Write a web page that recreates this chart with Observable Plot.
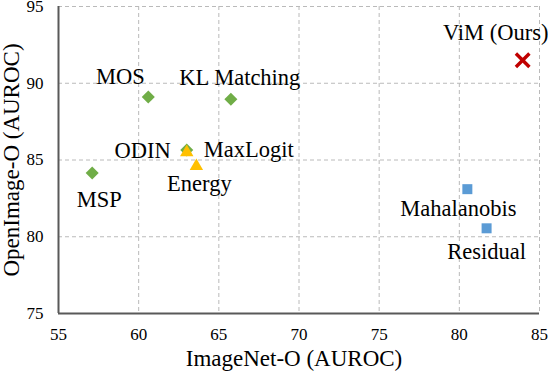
<!DOCTYPE html>
<html>
<head>
<meta charset="utf-8">
<script src="https://cdn.jsdelivr.net/npm/d3@7"></script>
<script src="https://cdn.jsdelivr.net/npm/@observablehq/plot@0.6"></script>
<style>
  html, body { margin: 0; padding: 0; background: #fff; }
</style>
</head>
<body>
<div id="chart"></div>
<script>
// Data
const methods = ["MSP", "MOS", "KL Matching", "ODIN", "MaxLogit", "Energy", "Mahalanobis", "Residual", "ViM (Ours)"];
const imagenetO = [57.1, 60.6, 65.75, 63.0, 63.0, 63.6, 80.5, 81.7, 83.95];
const openimageO = [84.15, 89.1, 88.95, 85.65, 85.5, 84.6, 83.1, 80.55, 91.5];
const groups = ["green", "green", "green", "green", "yellow", "yellow", "blue", "blue", "red"];
const xTicks = [55, 60, 65, 70, 75, 80, 85];
const yTicks = [75, 80, 85, 90, 95];
const xTitle = "ImageNet-O (AUROC)";
const yTitle = "OpenImage-O (AUROC)";

// Styling
const groupStyle = {
  green:  {symbol: "diamond2", fill: "#70AD47", r: 5.86},
  yellow: {symbol: "triangle2", fill: "#FFC000", r: 6.4},
  blue:   {symbol: "square", fill: "#5B9BD5", r: 5.64},
  red:    {symbol: "times", stroke: "#C00000", r: 6.2, strokeWidth: 3.4}
};
const labelOffset = {
  "MSP": {dx: 7, dy: 27, anchor: "middle"},
  "MOS": {dx: -28, dy: -20, anchor: "middle"},
  "KL Matching": {dx: 9, dy: -22, anchor: "middle"},
  "ODIN": {dx: -16, dy: 1, anchor: "end"},
  "MaxLogit": {dx: 17, dy: -3, anchor: "start"},
  "Energy": {dx: 3, dy: 18, anchor: "middle"},
  "Mahalanobis": {dx: -9, dy: 20, anchor: "middle"},
  "Residual": {dx: 0, dy: 23, anchor: "middle"},
  "ViM (Ours)": {dx: -27, dy: -27, anchor: "middle"}
};

const rows = methods.map((m, i) => ({method: m, x: imagenetO[i], y: openimageO[i], group: groups[i]}));
const FONT = "Liberation Serif";

const marks = [
  Plot.gridX(xTicks.slice(1), {stroke: "#bababa", strokeOpacity: 1, strokeDasharray: "4,3", strokeWidth: 1}),
  Plot.gridY(yTicks.slice(1), {stroke: "#bababa", strokeOpacity: 1, strokeDasharray: "4,3", strokeWidth: 1}),
  Plot.axisX(xTicks, {tickSize: 0, tickPadding: 14.5, fontSize: 17, label: null, fill: "#000"}),
  Plot.axisY(yTicks, {tickSize: 0, tickPadding: 15, fontSize: 17, label: null, fill: "#000"}),
  Plot.ruleX([55], {stroke: "#595959", strokeWidth: 2}),
  Plot.ruleY([75], {stroke: "#595959", strokeWidth: 2}),
];

// markers, one dot mark per group
for (const g of ["green", "yellow", "blue", "red"]) {
  const s = groupStyle[g];
  marks.push(Plot.dot(rows.filter(d => d.group === g), {
    x: "x", y: "y", symbol: () => s.symbol, r: s.r,
    fill: s.fill || "none", stroke: s.stroke || "none",
    strokeWidth: s.strokeWidth || 0
  }));
}

// point labels
for (const d of rows) {
  const o = labelOffset[d.method];
  marks.push(Plot.text([d], {
    x: "x", y: "y", text: "method", dx: o.dx, dy: o.dy, textAnchor: o.anchor,
    lineAnchor: "middle", fontSize: 22.5, fill: "#000"
  }));
}

// axis titles
marks.push(Plot.text([xTitle], {text: d => d, frameAnchor: "bottom", textAnchor: "middle", lineAnchor: "middle", dx: -5, dy: 45, fontSize: 23, fill: "#000"}));
marks.push(Plot.text([yTitle], {text: d => d, frameAnchor: "left", textAnchor: "middle", lineAnchor: "middle", dx: -47, rotate: -90, fontSize: 23, fill: "#000"}));

const chart = Plot.plot({
  width: 548,
  height: 374,
  marginLeft: 58,
  marginRight: 9,
  marginTop: 6,
  marginBottom: 61,
  x: {domain: [55, 85]},
  y: {domain: [75, 95]},
  symbol: {type: "identity"},
  style: {fontFamily: FONT, fontSize: "17px", background: "#fff", overflow: "visible"},
  marks
});
document.getElementById("chart").appendChild(chart);
</script>
</body>
</html>
